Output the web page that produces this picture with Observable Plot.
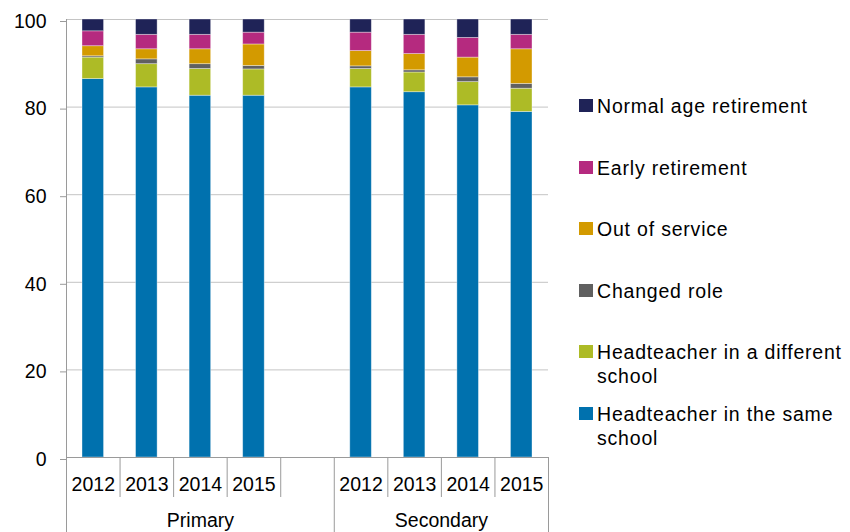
<!DOCTYPE html>
<html><head><meta charset="utf-8">
<script src="https://cdn.jsdelivr.net/npm/d3@7"></script>
<script src="https://cdn.jsdelivr.net/npm/@observablehq/plot@0.6"></script>
<style>
body{margin:0;background:#fff;}
#wrap{position:relative;width:850px;height:532px;overflow:hidden;font-family:"Liberation Sans",Arial,sans-serif;}
#legend{position:absolute;left:579px;top:94px;}
.item{position:relative;height:61.6px;padding-left:18px;font-size:19.5px;line-height:24px;letter-spacing:0.8px;color:#000;white-space:nowrap;}
.sw{position:absolute;left:0;top:5px;width:14px;height:13px;}
</style></head><body><div id="wrap"></div>
<script>
const phases = ["Primary", "Secondary"];
const years = ["2012", "2013", "2014", "2015"];
const series = ["Headteacher in the same school", "Headteacher in a different school", "Changed role", "Out of service", "Early retirement", "Normal age retirement"];
const legendLines = [["Normal age retirement"], ["Early retirement"], ["Out of service"], ["Changed role"], ["Headteacher in a different", "school"], ["Headteacher in the same", "school"]];
const colors = ["#0071ae", "#adbb26", "#606060", "#d39a00", "#b52a7f", "#1f2357"];
// values: Primary 2012..2015, Secondary 2012..2015
const sameSchool       = [86.4, 84.5, 82.6, 82.6, 84.5, 83.4, 80.4, 78.9];
const differentSchool  = [4.9, 5.3, 6.1, 6.0, 4.2, 4.5, 5.3, 5.3];
const changedRole      = [0.3, 1.1, 1.1, 0.8, 0.6, 0.5, 1.1, 1.1];
const outOfService     = [2.3, 2.3, 3.4, 4.9, 3.5, 3.7, 4.5, 7.9];
const earlyRetirement  = [3.4, 3.3, 3.3, 2.7, 4.2, 4.4, 4.5, 3.3];
const normalRetirement = [2.7, 3.5, 3.5, 3.0, 3.0, 3.5, 4.2, 3.5];
const yTicks = [0, 20, 40, 60, 80, 100];

const seriesValues = [sameSchool, differentSchool, changedRole, outOfService, earlyRetirement, normalRetirement];
const n = years.length;
// slot layout: each phase gets n slots, followed by one empty slot between phases
const groupStart = phases.map((p, i) => i * (n + 1));
const groupEnd = phases.map((p, i) => i === phases.length - 1 ? groupStart[i] + n : groupStart[i] + n + 1);
const totalSlots = groupEnd[groupEnd.length - 1];

const rows = [];
phases.forEach((p, pi) => years.forEach((yr, yi) => {
  const k = pi * n + yi;
  series.forEach((s, si) => rows.push({slot: groupStart[pi] + yi, series: s, value: seriesValues[si][k]}));
}));

const groupBounds = [...new Set([...groupStart, ...groupEnd])];
const minorBounds = d3.range(0, totalSlots + 1).filter(v => !groupBounds.includes(v));
const yearLabel = new Map();
phases.forEach((p, pi) => years.forEach((yr, yi) => yearLabel.set(groupStart[pi] + yi + 0.5, yr)));
const groupLabel = new Map();
phases.forEach((p, pi) => groupLabel.set((groupStart[pi] + groupEnd[pi]) / 2, p));

const axisGray = "#9a9a9a";
const chart = Plot.plot({
  width: 850, height: 532,
  marginLeft: 66, marginRight: 302, marginTop: 19, marginBottom: 75,
  style: {fontFamily: '"Liberation Sans", Arial, sans-serif', fontSize: "19.5px", color: "#000", background: "#fff"},
  x: {type: "linear", domain: [0, totalSlots], axis: null},
  y: {domain: [0, 100], axis: null},
  color: {domain: series, range: colors},
  marks: [
    Plot.gridY({ticks: yTicks, stroke: "#c4c4c4", strokeOpacity: 1}),
    Plot.rectY(rows, {x: "slot", interval: 1, y: "value", fill: "series", order: series, insetLeft: 16, insetRight: 16, stroke: "#ffffff", strokeOpacity: 0.45, strokeWidth: 0.8}),
    Plot.ruleY([0], {stroke: axisGray}),
    Plot.ruleX([0], {stroke: axisGray}),
    Plot.axisY({ticks: yTicks, tickSize: 6, tickPadding: 14, stroke: axisGray, fill: "#000", label: null, dy: 2}),
    Plot.axisX({ticks: minorBounds, tickSize: 40, tickFormat: () => "", stroke: axisGray, label: null}),
    Plot.axisX({ticks: groupBounds, tickSize: 75, tickFormat: () => "", stroke: axisGray, label: null}),
    Plot.axisX({ticks: [...yearLabel.keys()], tickSize: 0, tickPadding: 20, tickFormat: d => yearLabel.get(d), fill: "#000", label: null}),
    Plot.axisX({ticks: [...groupLabel.keys()], tickSize: 0, tickPadding: 56, tickFormat: d => groupLabel.get(d), fill: "#000", label: null})
  ]
});
const wrap = document.getElementById("wrap");
wrap.appendChild(chart);

const legend = document.createElement("div");
legend.id = "legend";
const colorOf = new Map(series.map((s, i) => [s, colors[i]]));
const legendSeries = series.slice().reverse();
legendSeries.forEach((s, i) => {
  const item = document.createElement("div");
  item.className = "item";
  const sw = document.createElement("div");
  sw.className = "sw";
  sw.style.background = colorOf.get(s);
  item.appendChild(sw);
  legendLines[i].forEach((line, li) => {
    if (li) item.appendChild(document.createElement("br"));
    item.appendChild(document.createTextNode(line));
  });
  legend.appendChild(item);
});
wrap.appendChild(legend);
</script></body></html>
